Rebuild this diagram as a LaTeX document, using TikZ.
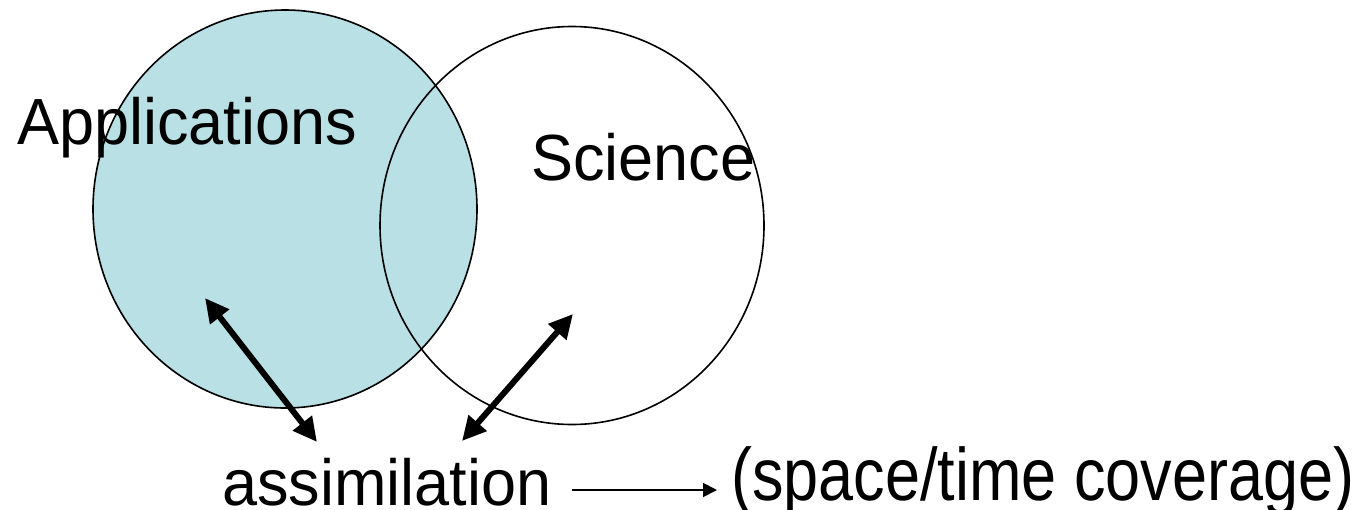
\documentclass[tikz,border=0pt]{standalone}
\usepackage{fontspec}
\setmainfont{Liberation Sans}
\usetikzlibrary{shapes.geometric,arrows.meta}
\definecolor{venfill}{RGB}{185,224,228}
\newcommand{\vstretch}[2][1.036]{\scalebox{1}[#1]{#2}}
\tikzset{
  venn/.style={draw=black, line width=1.6pt, ellipse, inner sep=0pt,
    minimum width=384pt, minimum height=398pt},
  lbl/.style={font=\fontsize{63}{70}\selectfont, inner sep=0pt, anchor=base west},
  bigarrow/.style={line width=6pt, {Triangle[length=24pt,width=23pt]}-{Triangle[length=24pt,width=23pt]}},
  smallarrow/.style={line width=1.8pt, -{Triangle[length=14pt,width=14pt]}}
}
\begin{document}
\begin{tikzpicture}[x=1pt,y=-1pt]
\useasboundingbox (0,0) rectangle (1368,509);
\node[venn, fill=venfill] (app) at (285,209) {};
\node[venn] (sci) at (572,225.5) {};
\node[lbl] (apptxt) at (17,144) {\vstretch{Applications}};
\node[lbl] (scitxt) at (531,180) {\vstretch{Science}};
\node[lbl] (assim) at (222,505) {\vstretch{assimilation}};
\node[lbl] (cover) at (731,500) {\vstretch[1.18]{(space/time coverage)}};
\coordinate (a1) at (205,298);
\coordinate (a2) at (317,442);
\coordinate (b1) at (573,314);
\coordinate (b2) at (462,441);
\coordinate (c1) at (572,490);
\coordinate (c2) at (717,490);
\draw[bigarrow] (a1) -- (a2);
\draw[bigarrow] (b2) -- (b1);
\draw[smallarrow] (c1) -- (c2);
\end{tikzpicture}
\end{document}
